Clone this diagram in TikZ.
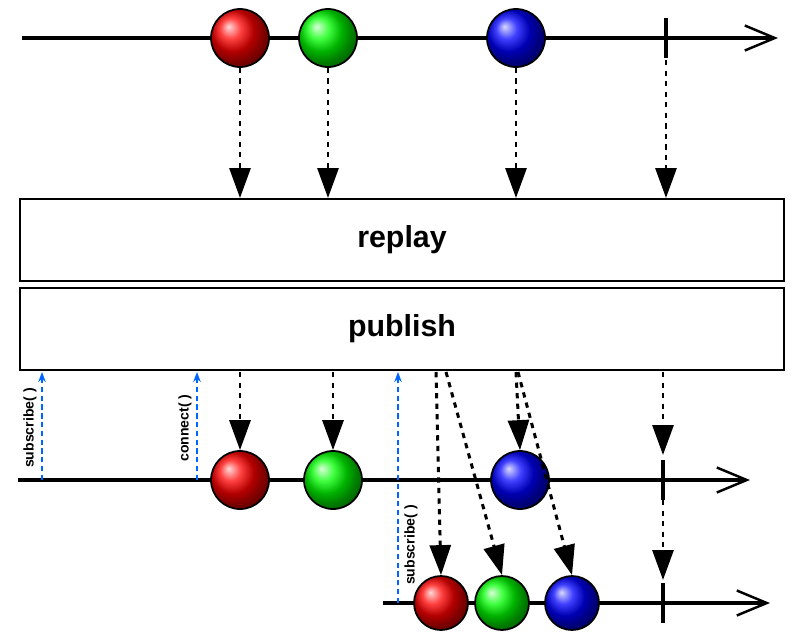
\documentclass[tikz,border=0pt]{standalone}
\usepackage{fontspec}
\setmainfont{Liberation Sans}
\usetikzlibrary{arrows.meta,positioning}

\begin{document}
\begin{tikzpicture}[
    x=0.02cm,y=-0.02cm,
    line/.style={line width=1.8pt,-{Straight Barb[length=0.6cm,width=0.5cm,line width=1.4pt]}},
    marble/.style={circle,draw,line width=1pt,minimum size=1.16cm,inner sep=0pt,shading=ball,ball color=#1},
    smarble/.style={marble=#1,minimum size=1.08cm},
    tick/.style={line width=1.8pt},
    emit/.style={line width=1.7pt,dash pattern=on 3pt off 3pt,-{Triangle[length=0.6cm,width=0.42cm]}},
    sub/.style={draw=blue!60!cyan,line width=1.1pt,dash pattern=on 3pt off 2pt,-{Stealth[length=0.2cm,width=0.15cm]}},
    op/.style={draw,line width=1.3pt,minimum width=15.28cm,minimum height=1.64cm,font=\bfseries\LARGE},
    lbl/.style={font=\bfseries\footnotesize,rotate=90,inner sep=1pt},
  ]
  \useasboundingbox (0,0) rectangle (799,643);

  % source
  \coordinate (s-start) at (22,38);
  \coordinate (s-end) at (778,38);
  \draw[line] (s-start) -- (s-end);
  \node (s-r) at (240,38) [marble=red] {};
  \node (s-g) at (328,38) [marble=green] {};
  \node (s-b) at (516,38) [marble=blue] {};
  \coordinate (s-t) at (666,38);
  \draw[tick] (666,18) -- (666,58);

  % operators
  \node (replay) at (402,240) [op] {replay};
  \node (publish) at (402,329) [op] {publish};

  \foreach \n/\x in {r/240,g/328,b/516}
    \draw[emit] (s-\n.south) -- (\x,198);
  \draw[emit] (666,60) -- (666,198);

  % first subscriber
  \coordinate (a-start) at (18,480);
  \coordinate (a-end) at (750,480);
  \draw[line] (a-start) -- (a-end);
  \node (a-r) at (240,480) [marble=red] {};
  \node (a-g) at (333,480) [marble=green] {};
  \node (a-b) at (520,480) [marble=blue] {};
  \draw[tick] (663,460) -- (663,500);

  \draw[emit] (240,372) -- (a-r.north);
  \draw[emit] (333,372) -- (a-g.north);
  \draw[emit] (516,372) -- (a-b.north);
  \draw[emit] (663,372) -- (663,455);

  % second subscriber
  \coordinate (b-start) at (383,603);
  \coordinate (b-end) at (770,603);
  \draw[line] (b-start) -- (b-end);
  \node (b-r) at (441,603) [smarble=red] {};
  \node (b-g) at (502,603) [smarble=green] {};
  \node (b-b) at (572,603) [smarble=blue] {};
  \draw[tick] (663,583) -- (663,623);

  \draw[emit] (436,372) -- (b-r.north);
  \draw[emit] (446,372) -- (b-g.north);
  \draw[emit] (518,372) -- (b-b.north);
  \draw[emit] (663,500) -- (663,580);

  % subscriptions
  \draw[sub] (42,480) -- (42,372);
  \draw[sub] (197,480) -- (197,372);
  \draw[sub] (398,603) -- (398,372);
  \node (l-sub1) at (30,428) [lbl] {subscribe( )};
  \node (l-con) at (185,428) [lbl] {connect( )};
  \node (l-sub2) at (411,545) [lbl] {subscribe( )};
\end{tikzpicture}
\end{document}
